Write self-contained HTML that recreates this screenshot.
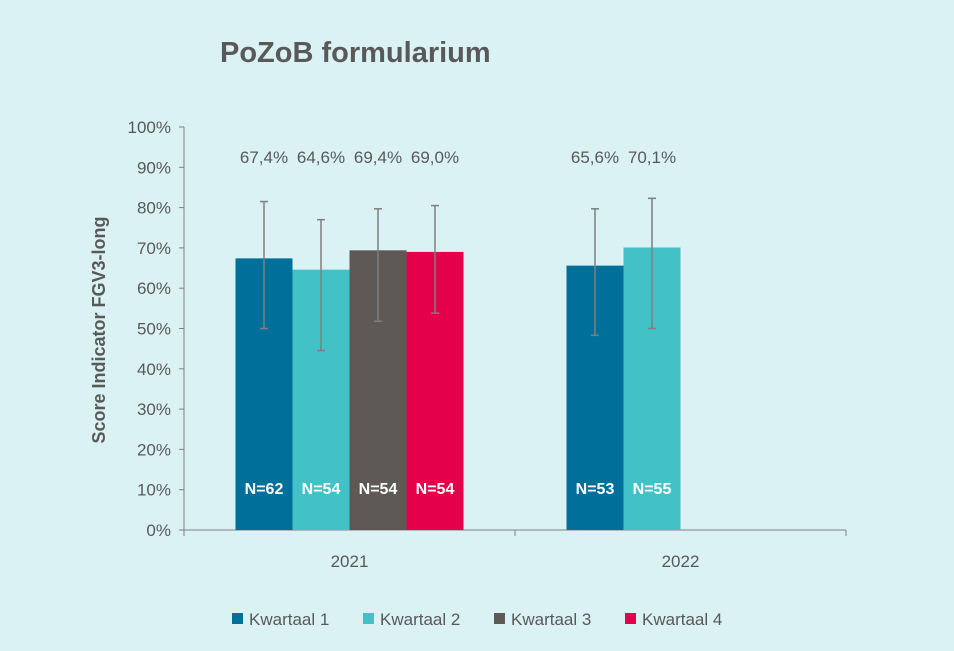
<!DOCTYPE html>
<html><head><meta charset="utf-8"><style>
body{margin:0;background:#daf2f4;font-family:"Liberation Sans",sans-serif;}
svg{display:block}
</style></head><body>
<svg id="chart" width="954" height="651">
<rect width="954" height="651" fill="#daf2f4"/>
<text x="220" y="62" font-size="29" font-weight="bold" fill="#595959">PoZoB formularium</text>
<text transform="translate(105,330) rotate(-90)" text-anchor="middle" font-size="18" font-weight="bold" fill="#595959">Score Indicator FGV3-long</text>
<g id="axes"></g><g id="bars"></g><g id="legend"></g>
</svg>
<script>
const categories=["2021","2022"];
const series=["Kwartaal 1","Kwartaal 2","Kwartaal 3","Kwartaal 4"];
const colors=["#00709b","#42c1c7","#5e5955","#e4004b"];
const values=[[67.4,64.6,69.4,69.0],[65.6,70.1,null,null]];
const errHigh=[[81.5,77,79.7,80.5],[79.7,82.3,null,null]];
const errLow=[[50,44.5,51.8,53.8],[48.3,50,null,null]];
const nLabels=[["N=62","N=54","N=54","N=54"],["N=53","N=55",null,null]];
const yTicks=[0,10,20,30,40,50,60,70,80,90,100];
const NS="http://www.w3.org/2000/svg";
const x0=184,x1=846,y0=530,y1=127;
const yS=v=>y0-(y0-y1)*v/100;
const catW=(x1-x0)/categories.length, barW=57;
function mk(t,a,p){const e=document.createElementNS(NS,t);for(const k in a)e.setAttribute(k,a[k]);p.appendChild(e);return e;}
const ax=document.getElementById('axes'),bg=document.getElementById('bars'),lg=document.getElementById('legend');
let e=mk('line',{x1:x0,y1:y1,x2:x0,y2:y0,stroke:'#808080'},ax);

e=mk('line',{x1:x0,y1:y0,x2:x1,y2:y0,stroke:'#808080'},ax);

yTicks.forEach(t=>{const y=yS(t);
 mk('line',{x1:x0-5,y1:y,x2:x0,y2:y,stroke:'#808080'},ax);
 const tx=mk('text',{x:x0-13,y:y+6,'text-anchor':'end','font-size':17,fill:'#595959'},ax);tx.textContent=t+'%';
 });
for(let i=0;i<=categories.length;i++)mk('line',{x1:x0+i*catW,y1:y0,x2:x0+i*catW,y2:y0+6,stroke:'#808080'},ax);
categories.forEach((c,ci)=>{const cx=x0+catW*(ci+0.5);
 const t=mk('text',{x:cx,y:567,'text-anchor':'middle','font-size':17,fill:'#595959'},ax);t.textContent=c;
 
 values[ci].forEach((v,si)=>{if(v==null)return;
  const bx=cx-barW*series.length/2+si*barW;
  const r=mk('rect',{x:bx,y:yS(v),width:barW,height:y0-yS(v),fill:colors[si]},bg);
  
  const mx=bx+barW/2;
  const g=mk('g',{stroke:'#7f7f7f','stroke-width':1.5},bg);
  
  mk('line',{x1:mx,y1:yS(errHigh[ci][si]),x2:mx,y2:yS(errLow[ci][si])},g);
  mk('line',{x1:mx-4,y1:yS(errHigh[ci][si]),x2:mx+4,y2:yS(errHigh[ci][si])},g);
  mk('line',{x1:mx-4,y1:yS(errLow[ci][si]),x2:mx+4,y2:yS(errLow[ci][si])},g);
  const vl=mk('text',{x:mx,y:163,'text-anchor':'middle','font-size':17,fill:'#595959'},bg);vl.textContent=v.toFixed(1).replace('.',',')+'%';
  
  const nl=mk('text',{x:mx,y:494,'text-anchor':'middle','font-size':16,'font-weight':'bold',fill:'#fff'},bg);nl.textContent=nLabels[ci][si];
  
 });});
const lx=[232,363,494,625];
series.forEach((s,i)=>{const g=mk('g',{},lg);
 
 mk('rect',{x:lx[i],y:613,width:11,height:11,fill:colors[i]},g);
 const t=mk('text',{x:lx[i]+17,y:625,'font-size':17,fill:'#595959'},g);t.textContent=s;});
</script>
</body></html>
